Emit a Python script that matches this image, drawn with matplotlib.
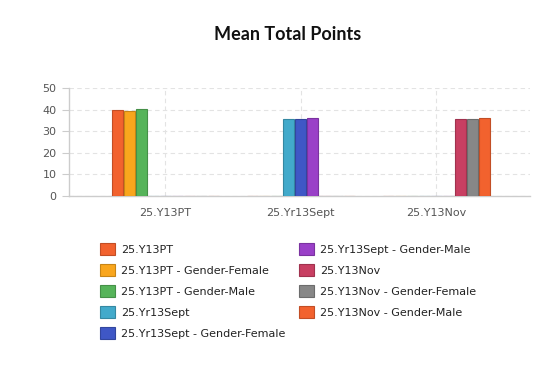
import numpy as np
import matplotlib
matplotlib.use("Agg")
import matplotlib.pyplot as plt
from matplotlib.colors import to_rgb

# categories on the x axis
categories = ["25.Y13PT", "25.Yr13Sept", "25.Y13Nov"]

# one series per legend entry; only its own category has a value
series_names = [
    "25.Y13PT",
    "25.Y13PT - Gender-Female",
    "25.Y13PT - Gender-Male",
    "25.Yr13Sept",
    "25.Yr13Sept - Gender-Female",
    "25.Yr13Sept - Gender-Male",
    "25.Y13Nov",
    "25.Y13Nov - Gender-Female",
    "25.Y13Nov - Gender-Male",
]
series_values = [
    [39.9, 0, 0],
    [39.5, 0, 0],
    [40.4, 0, 0],
    [0, 35.6, 0],
    [0, 35.6, 0],
    [0, 36.1, 0],
    [0, 0, 35.6],
    [0, 0, 35.6],
    [0, 0, 36.1],
]
series_colors = [
    "#f2622e", "#f9a61d", "#56b45a",
    "#42aacb", "#3f57c6", "#9a40c8",
    "#c83f62", "#878787", "#f2622e",
]


def darker(c, f=0.8):
    r, g, b = to_rgb(c)
    return (r * f, g * f, b * f)


fig = plt.figure(figsize=(5.6, 3.73), dpi=100)
ax = fig.add_axes([69 / 560, 1 - 196 / 373, 461 / 560, 108 / 373])

x = np.arange(len(categories))
n = len(series_names)
group_w = 0.8
bar_w = group_w / n
for i, (name, vals, col) in enumerate(zip(series_names, series_values, series_colors)):
    pos = x - group_w / 2 + bar_w * (i + 0.5)
    ax.bar(pos, vals, width=bar_w * 0.92, color=col, edgecolor=darker(col),
           linewidth=0.8, label=name, zorder=3)

ax.set_xlim(-0.71, 2.69)
ax.set_ylim(0, 50)
ax.set_yticks(range(0, 51, 10))
ax.set_xticks(x)
ax.set_xticklabels(categories)

ax.grid(True, color="#e3e3e3", linestyle=(0, (4, 3)), linewidth=0.8, zorder=0)
for s in ["top", "right"]:
    ax.spines[s].set_visible(False)
for s in ["left", "bottom"]:
    ax.spines[s].set_color("#cccccc")
    ax.spines[s].set_linewidth(1)
ax.tick_params(axis="y", colors="#555555", labelsize=8, length=5, color="#cccccc", pad=4)
ax.tick_params(axis="x", colors="#555555", labelsize=8, length=0, pad=9)

fig.text(288 / 560, 1 - 34 / 373, "Mean Total Points", ha="center", va="center",
         fontsize=13, fontweight="bold", family="Lato", color="#111111")

fig.legend(loc="upper left", bbox_to_anchor=(100 / 560, 1 - 243 / 373),
           ncol=2, frameon=False, fontsize=8, borderpad=0, borderaxespad=0,
           handlelength=1.35, handleheight=1.35, handletextpad=0.55,
           labelspacing=0.76, columnspacing=1.2, labelcolor="#222222")

fig.savefig("out.png", dpi=100)
